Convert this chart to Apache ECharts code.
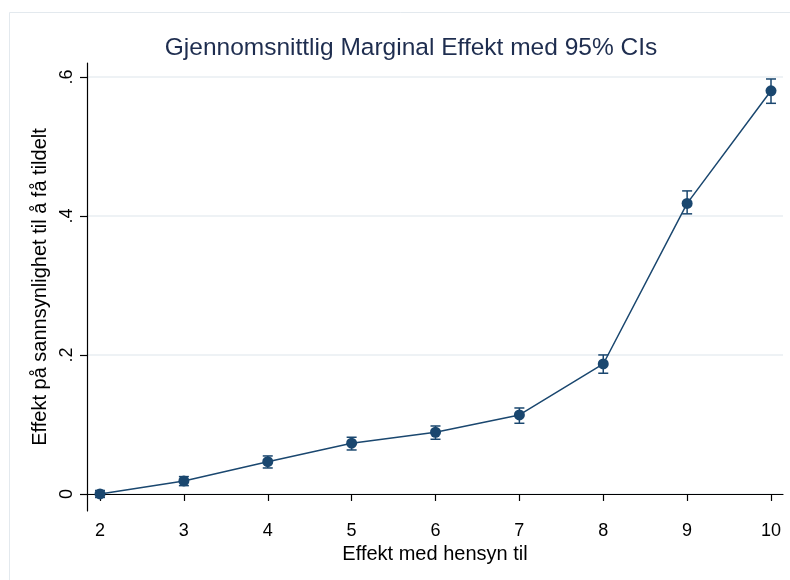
<!DOCTYPE html>
<html>
<head>
<meta charset="utf-8">
<script src="https://cdn.jsdelivr.net/npm/echarts@6/dist/echarts.min.js"></script>
<style>
  html, body { margin: 0; padding: 0; background: #fff; }
  #chart { width: 790px; height: 580px; }
</style>
</head>
<body>
<div id="chart"></div>
<script>
// data
var xValues = [2, 3, 4, 5, 6, 7, 8, 9, 10];
var effect  = [0.000, 0.0187, 0.0465, 0.073, 0.0888, 0.1137, 0.187, 0.418, 0.580];
var ciLow   = [-0.005, 0.012, 0.0374, 0.0633, 0.0787, 0.1017, 0.1737, 0.403, 0.562];
var ciHigh  = [0.005, 0.025, 0.0547, 0.0816, 0.0978, 0.1237, 0.200, 0.436, 0.597];
var yTicks  = [0, 0.2, 0.4, 0.6];

var navy = '#1a476f';
var font = 'Liberation Sans, Arial, Helvetica, sans-serif';

var myChart = echarts.init(document.getElementById('chart'));

var lineData = xValues.map(function (x, i) { return [x, effect[i]]; });
var ciData = xValues.map(function (x, i) { return [x, ciLow[i], ciHigh[i]]; });

myChart.setOption({
    animation: false,
    backgroundColor: '#fff',
    textStyle: { fontFamily: font },
    graphic: [{
        type: 'rect',
        shape: { x: 9.5, y: 12.5, width: 800, height: 600 },
        style: { fill: null, stroke: '#e3e9ee', lineWidth: 1 },
        silent: true
    }],
    title: {
        text: 'Gjennomsnittlig Marginal Effekt med 95% CIs',
        left: 406,
        top: 31,
        textAlign: 'center',
        textStyle: {
            color: '#1e2d4f',
            fontSize: 24.5,
            fontWeight: 'normal',
            fontFamily: font
        }
    },
    grid: {
        left: 87,
        right: 7,
        top: 63,
        bottom: 69,
        containLabel: false
    },
    xAxis: {
        type: 'value',
        min: 1.845,
        max: 10.143,
        name: 'Effekt med hensyn til',
        nameLocation: 'middle',
        nameGap: 30,
        nameTextStyle: { color: '#000', fontSize: 20, fontFamily: font },
        axisLine: { lineStyle: { color: '#000', width: 1.2 } },
        axisTick: {
            show: true,
            length: 7,
            customValues: xValues,
            lineStyle: { color: '#000', width: 1.2 }
        },
        axisLabel: {
            customValues: xValues,
            color: '#000',
            fontSize: 18,
            margin: 11,
            fontFamily: font
        },
        splitLine: { show: false }
    },
    yAxis: {
        type: 'value',
        min: -0.0245,
        max: 0.62,
        name: 'Effekt på sannsynlighet til å få tildelt',
        nameLocation: 'middle',
        nameGap: 35,
        nameTextStyle: { color: '#000', fontSize: 20, fontFamily: font },
        axisLine: { show: true, lineStyle: { color: '#000', width: 1.2 } },
        axisTick: {
            show: true,
            length: 7,
            customValues: yTicks,
            lineStyle: { color: '#000', width: 1.2 }
        },
        axisLabel: {
            customValues: yTicks,
            rotate: 90,
            color: '#000',
            fontSize: 18,
            margin: 11,
            fontFamily: font,
            formatter: function (v) {
                if (v === 0) return '0';
                return String(Number(v.toFixed(1))).replace(/^0/, '');
            }
        },
        splitLine: {
            show: true,
            lineStyle: { color: '#e8eef2', width: 1.5 }
        }
    },
    series: [{
        type: 'custom',
        name: 'CI',
        data: ciData,
        z: 3,
        renderItem: function (params, api) {
            var x = api.value(0);
            var lo = api.coord([x, api.value(1)]);
            var hi = api.coord([x, api.value(2)]);
            var half = 5;
            var style = { stroke: navy, lineWidth: 1.5 };
            return {
                type: 'group',
                children: [
                    { type: 'line', shape: { x1: lo[0], y1: lo[1], x2: hi[0], y2: hi[1] }, style: style },
                    { type: 'line', shape: { x1: lo[0] - half, y1: lo[1], x2: lo[0] + half, y2: lo[1] }, style: style },
                    { type: 'line', shape: { x1: hi[0] - half, y1: hi[1], x2: hi[0] + half, y2: hi[1] }, style: style }
                ]
            };
        }
    }, {
        type: 'line',
        name: 'Effekt',
        data: lineData,
        z: 4,
        symbol: 'circle',
        symbolSize: 11,
        lineStyle: { color: navy, width: 1.5 },
        itemStyle: { color: navy, borderWidth: 0 }
    }]
});
</script>
</body>
</html>
